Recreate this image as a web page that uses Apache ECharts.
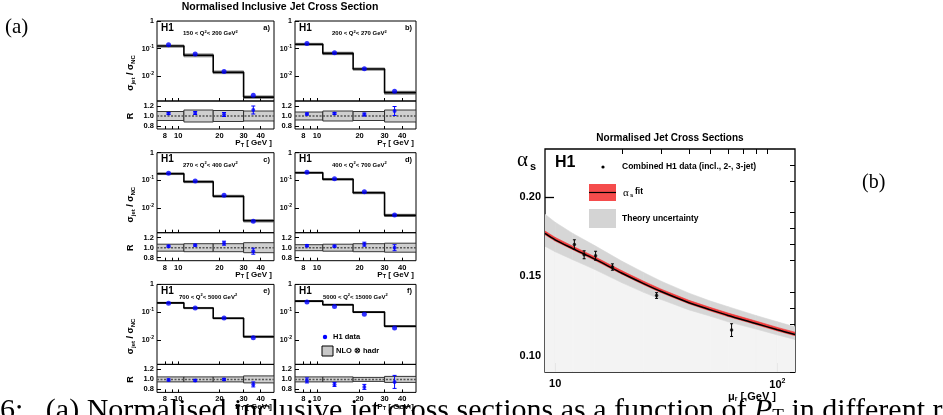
<!DOCTYPE html>
<html><head><meta charset="utf-8">
<script src="https://cdn.jsdelivr.net/npm/echarts@6/dist/echarts.min.js"></script>
<style>html,body{margin:0;padding:0;background:#fff}#c{width:943px;height:415px}</style>
</head><body><div id="c"></div>
<script>
// ---------- data: panel (a) ----------
const ptEdges = [7, 11, 18, 30, 50];
const ptCentres = [8.5, 13.3, 21.6, 35.3];
const ptTickLabels = [8, 10, 20, 30, 40];
const q2Low = ['150', '200', '270', '400', '700', '5000'];
const q2High = ['200', '270', '400', '700', '5000', '15000'];
const panelTags = ['a)', 'b)', 'c)', 'd)', 'e)', 'f)'];
const xsecData = [
  [0.140, 0.065, 0.015, 0.0021],
  [0.153, 0.072, 0.019, 0.0029],
  [0.180, 0.095, 0.029, 0.0034],
  [0.196, 0.115, 0.039, 0.0056],
  [0.211, 0.140, 0.061, 0.0120],
  [0.230, 0.160, 0.083, 0.0270]
];
const nloValues = [
  [0.125, 0.058, 0.0142, 0.0018],
  [0.145, 0.068, 0.0185, 0.0026],
  [0.175, 0.090, 0.027, 0.0035],
  [0.190, 0.110, 0.036, 0.0055],
  [0.215, 0.140, 0.060, 0.0130],
  [0.250, 0.185, 0.100, 0.0310]
];
const ratioValues = [
  [1.05, 1.06, 1.03, 1.12],
  [1.04, 1.05, 1.03, 1.10],
  [1.03, 1.05, 1.09, 0.93],
  [1.04, 1.03, 1.07, 1.00],
  [0.99, 0.98, 1.00, 0.90],
  [0.98, 0.90, 0.85, 0.95]
];
const ratioErrors = [
  [0.02, 0.03, 0.04, 0.08],
  [0.02, 0.02, 0.03, 0.09],
  [0.02, 0.02, 0.04, 0.06],
  [0.02, 0.02, 0.04, 0.06],
  [0.02, 0.02, 0.02, 0.05],
  [0.05, 0.04, 0.05, 0.13]
];
const nloUncert = [
  [0.09, 0.12, 0.11, 0.10],
  [0.08, 0.10, 0.09, 0.12],
  [0.07, 0.08, 0.08, 0.10],
  [0.06, 0.07, 0.08, 0.09],
  [0.05, 0.05, 0.05, 0.07],
  [0.05, 0.05, 0.04, 0.06]
];
// ---------- data: panel (b) ----------
const muGrid = [9, 10, 12, 15, 20, 25, 30, 40, 50, 60, 80, 100, 120];
const alphaFit = [0.177, 0.173, 0.1675, 0.161, 0.152, 0.1455, 0.1405, 0.1335, 0.129, 0.1255, 0.1205, 0.1165, 0.1135];
const fitHi = [0.1785, 0.1745, 0.169, 0.1625, 0.1535, 0.147, 0.142, 0.135, 0.1305, 0.127, 0.122, 0.118, 0.115];
const fitLo = [0.1762, 0.1722, 0.1668, 0.1603, 0.1513, 0.1448, 0.1398, 0.1328, 0.1283, 0.1248, 0.1198, 0.1158, 0.1128];
const theoryHi = [0.189, 0.184, 0.177, 0.1695, 0.1595, 0.1525, 0.147, 0.1395, 0.1345, 0.131, 0.1255, 0.1215, 0.1184];
const theoryLo = [0.169, 0.1655, 0.1605, 0.1545, 0.146, 0.140, 0.1355, 0.129, 0.125, 0.1215, 0.117, 0.1133, 0.1104];
const h1Mu = [12.2, 13.5, 15.2, 18.1, 28.6, 62.2];
const h1Alpha = [0.170, 0.1636, 0.163, 0.1559, 0.138, 0.1163];
const h1Err = [0.003, 0.0025, 0.0028, 0.002, 0.0018, 0.004];
const alphaTicks = [0.10, 0.15, 0.20];
const muTicks = [10, 100];

const F = 'Liberation Sans';
const chart = echarts.init(document.getElementById('c'), null, {renderer: 'canvas'});

function rectRender(fill, stroke, lw) {
  return function (params, api) {
    const p0 = api.coord([api.value(0), api.value(3)]);
    const p1 = api.coord([api.value(1), api.value(2)]);
    return {type: 'rect', shape: {x: p0[0], y: p0[1], width: p1[0] - p0[0], height: p1[1] - p0[1]},
      style: {fill: fill, stroke: stroke, lineWidth: lw}};
  };
}
function errRender(color, cap, lw) {
  return function (params, api) {
    const x = api.value(0);
    const a = api.coord([x, api.value(1)]);
    const b = api.coord([x, api.value(2)]);
    const st = {stroke: color, lineWidth: lw};
    return {type: 'group', children: [
      {type: 'line', shape: {x1: a[0], y1: a[1], x2: b[0], y2: b[1]}, style: st},
      {type: 'line', shape: {x1: a[0] - cap, y1: a[1], x2: a[0] + cap, y2: a[1]}, style: st},
      {type: 'line', shape: {x1: b[0] - cap, y1: b[1], x2: b[0] + cap, y2: b[1]}, style: st}
    ]};
  };
}
// band segment: [x0, x1, lo0, hi0, lo1, hi1]
function bandRender(fill) {
  return function (params, api) {
    const x0 = api.value(0), x1 = api.value(1);
    const pts = [api.coord([x0, api.value(2)]), api.coord([x1, api.value(4)]),
                 api.coord([x1, api.value(5)]), api.coord([x0, api.value(3)])];
    return {type: 'polygon', shape: {points: pts}, style: {fill: fill, stroke: fill, lineWidth: 0.6}};
  };
}
function segments(lo, hi) {
  const out = [];
  for (let k = 0; k < muGrid.length - 1; k++) {
    out.push([muGrid[k], muGrid[k + 1], lo[k], hi[k], lo[k + 1], hi[k + 1]]);
  }
  return out;
}

const grids = [], xAxes = [], yAxes = [], series = [], graphics = [];
const supRich = {
  b: {fontFamily: F, fontWeight: 'bold', fontSize: 7, color: '#000'},
  s: {fontFamily: F, fontWeight: 'bold', fontSize: 5, color: '#000', padding: [0, 0, 5, 0]}
};
const q2LeftX = [183, 332, 183, 332, 179, 323];

for (let i = 0; i < 6; i++) {
  const col = i % 2, row = Math.floor(i / 2);
  const L = col ? 295 : 157, W = col ? 121 : 117, T = 21 + row * 131.7;
  const gu = 2 * i, gr = 2 * i + 1;
  grids.push({left: L, top: T, width: W, height: 80, show: true, borderColor: '#000', borderWidth: 1});
  grids.push({left: L, top: T + 80, width: W, height: 28, show: true, borderColor: '#000', borderWidth: 1});
  const xBase = {type: 'log', logBase: 10, min: 7, max: 50, axisLine: {show: false}, splitLine: {show: false},
    axisTick: {inside: true, length: 3, customValues: [8, 9, 10, 20, 30, 40], lineStyle: {color: '#000', width: 1}}};
  xAxes.push(Object.assign({}, xBase, {gridIndex: gu, axisLabel: {show: false}}));
  xAxes.push(Object.assign({}, xBase, {gridIndex: gr, axisLabel: {customValues: ptTickLabels, margin: 3,
    fontFamily: F, fontWeight: 'bold', fontSize: 7.5, color: '#000', formatter: v => String(Math.round(v))}}));
  yAxes.push({type: 'log', logBase: 10, min: 0.0013, max: 1, gridIndex: gu, axisLine: {show: false}, splitLine: {show: false},
    axisTick: {inside: true, length: 4, customValues: [0.01, 0.1, 1], lineStyle: {color: '#000'}},
    axisLabel: {customValues: [0.01, 0.1, 1], margin: 3, formatter: v => {
      const e = Math.round(Math.log10(v));
      return e === 0 ? '{b|1}' : '{b|10}{s|' + e + '}';
    }, rich: supRich}});
  yAxes.push({type: 'value', min: 0.74, max: 1.3, gridIndex: gr, axisLine: {show: false}, splitLine: {show: false},
    axisTick: {inside: true, length: 4, customValues: [0.8, 1.0, 1.2], lineStyle: {color: '#000'}},
    axisLabel: {customValues: [0.8, 1.0, 1.2], margin: 3, fontFamily: F, fontWeight: 'bold', fontSize: 7.5, color: '#000',
      formatter: v => v.toFixed(1)}});

  const upBand = [], rBand = [], step = [], pts = [], rPts = [], rErr = [];
  for (let k = 0; k < 4; k++) {
    const n = nloValues[i][k], u = nloUncert[i][k];
    upBand.push([ptEdges[k], ptEdges[k + 1], n * (1 - u), n * (1 + u)]);
    rBand.push([ptEdges[k], ptEdges[k + 1], 1 - u, 1 + u]);
    step.push([ptEdges[k], n]);
    pts.push([ptCentres[k], xsecData[i][k]]);
    rPts.push([ptCentres[k], ratioValues[i][k]]);
    rErr.push([ptCentres[k], ratioValues[i][k] - ratioErrors[i][k], ratioValues[i][k] + ratioErrors[i][k]]);
  }
  step.push([ptEdges[4], nloValues[i][3]]);
  series.push({type: 'custom', xAxisIndex: gu, yAxisIndex: gu, renderItem: rectRender('#a9a9a9', '#555', 0.7), data: upBand, clip: true, z: 1});
  series.push({type: 'line', xAxisIndex: gu, yAxisIndex: gu, step: 'end', data: step, symbol: 'none',
    lineStyle: {color: '#000', width: 1.6}, z: 2});
  series.push({type: 'scatter', xAxisIndex: gu, yAxisIndex: gu, data: pts, symbolSize: 5, itemStyle: {color: '#0000ff'}, z: 3});
  series.push({type: 'custom', xAxisIndex: gr, yAxisIndex: gr, renderItem: rectRender('#cfcfcf', '#222', 0.9), data: rBand, clip: true, z: 1});
  series.push({type: 'line', xAxisIndex: gr, yAxisIndex: gr, data: [[7, 1], [50, 1]], symbol: 'none',
    lineStyle: {color: '#555', width: 1.5, type: [2, 1.5]}, z: 2});
  series.push({type: 'custom', xAxisIndex: gr, yAxisIndex: gr, renderItem: errRender('#0000ff', 2, 1), data: rErr, clip: true, z: 3});
  series.push({type: 'scatter', xAxisIndex: gr, yAxisIndex: gr, data: rPts, symbolSize: 4, itemStyle: {color: '#0000ff'}, z: 4});

  graphics.push({type: 'text', x: L + 4, y: T + 7, style: {text: 'H1', fill: '#000', font: 'bold 10px ' + F,
    align: 'left', textAlign: 'left', verticalAlign: 'middle', textVerticalAlign: 'middle'}});
  graphics.push({type: 'text', x: L + W - 4, y: T + 7, style: {text: panelTags[i], fill: '#000', font: 'bold 7.5px ' + F,
    align: 'right', textAlign: 'right', verticalAlign: 'middle', textVerticalAlign: 'middle'}});
  graphics.push({type: 'text', x: q2LeftX[i], y: T + 12.5, style: {
    text: '{t|' + q2Low[i] + ' < Q}{p|2}{t|< ' + q2High[i] + ' GeV}{p|2}',
    align: 'left', textAlign: 'left', verticalAlign: 'middle', textVerticalAlign: 'middle',
    rich: {t: {fontFamily: F, fontWeight: 'bold', fontSize: 6, color: '#000'},
           p: {fontFamily: F, fontWeight: 'bold', fontSize: 4, color: '#000', padding: [0, 0, 4, 0]}}}});
  graphics.push({type: 'text', x: L + W - 2, y: T + 122, style: {
    text: '{t|P}{u|T}{t| [ GeV ]}', align: 'right', textAlign: 'right', verticalAlign: 'middle', textVerticalAlign: 'middle',
    rich: {t: {fontFamily: F, fontWeight: 'bold', fontSize: 8, color: '#000'},
           u: {fontFamily: F, fontWeight: 'bold', fontSize: 5.5, color: '#000', padding: [4, 0, 0, 0]}}}});
  if (col === 0) {
    graphics.push({type: 'text', x: 131, y: T + 52, rotation: Math.PI / 2, style: {
      text: '{t|σ}{u|jet}{t| / σ}{u|NC}', align: 'center', textAlign: 'center', verticalAlign: 'middle', textVerticalAlign: 'middle',
      rich: {t: {fontFamily: F, fontWeight: 'bold', fontSize: 9, color: '#000'},
             u: {fontFamily: F, fontWeight: 'bold', fontSize: 6, color: '#000', padding: [4, 0, 0, 0]}}}});
    graphics.push({type: 'text', x: 131, y: T + 95, rotation: Math.PI / 2, style: {text: 'R', fill: '#000',
      font: 'bold 9px ' + F, align: 'center', textAlign: 'center', verticalAlign: 'middle', textVerticalAlign: 'middle'}});
  }
}

// legend in panel f
graphics.push({type: 'circle', shape: {cx: 325, cy: 337, r: 2.2}, style: {fill: '#0000ff'}});
graphics.push({type: 'text', x: 333, y: 337, style: {text: 'H1 data', fill: '#000', font: 'bold 7.5px ' + F,
  align: 'left', textAlign: 'left', verticalAlign: 'middle', textVerticalAlign: 'middle'}});
graphics.push({type: 'rect', shape: {x: 322, y: 346, width: 11, height: 10}, style: {fill: '#c8c8c8', stroke: '#000', lineWidth: 1}});
graphics.push({type: 'text', x: 336, y: 351, style: {text: 'NLO ⊗ hadr', fill: '#000', font: 'bold 7.5px ' + F,
  align: 'left', textAlign: 'left', verticalAlign: 'middle', textVerticalAlign: 'middle'}});

// ---------- right panel ----------
const RG = 12;
grids.push({left: 545, top: 149, width: 250, height: 223, show: true, borderColor: '#000', borderWidth: 1.3});
xAxes.push({type: 'log', logBase: 10, min: 9, max: 120, gridIndex: RG, axisLine: {show: false}, splitLine: {show: false},
  axisTick: {inside: true, length: 9, customValues: muTicks, lineStyle: {color: '#000', width: 1.3}},
  axisLabel: {customValues: muTicks, margin: 6, formatter: v => v < 50 ? '{b|10}' : '{b|10}{s|2}',
    rich: {b: {fontFamily: F, fontWeight: 'bold', fontSize: 11, color: '#000'},
           s: {fontFamily: F, fontWeight: 'bold', fontSize: 7, color: '#000', padding: [0, 0, 7, 0]}}}});
xAxes.push({type: 'log', logBase: 10, min: 9, max: 120, gridIndex: RG, axisLine: {show: false}, splitLine: {show: false},
  axisTick: {inside: true, length: 5, customValues: [20, 30, 40, 50, 60, 70, 80, 90], lineStyle: {color: '#000', width: 1}},
  axisLabel: {show: false}});
yAxes.push({type: 'value', min: 0.09, max: 0.23, gridIndex: RG, axisLine: {show: false}, splitLine: {show: false},
  axisTick: {inside: true, length: 9, customValues: alphaTicks, lineStyle: {color: '#000', width: 1.3}},
  axisLabel: {customValues: alphaTicks, margin: 4, fontFamily: F, fontWeight: 'bold', fontSize: 11, color: '#000',
    formatter: v => v.toFixed(2)}});
yAxes.push({type: 'value', min: 0.09, max: 0.23, gridIndex: RG, axisLine: {show: false}, splitLine: {show: false},
  axisTick: {inside: true, length: 5, customValues: [0.09, 0.11, 0.12, 0.13, 0.14, 0.16, 0.17, 0.18, 0.19, 0.21, 0.22],
    lineStyle: {color: '#000', width: 1}}, axisLabel: {show: false}});

const XI = 12, YI = 12;
const floorLine = muGrid.map(() => 0.09);
series.push({type: 'custom', xAxisIndex: XI, yAxisIndex: YI, renderItem: bandRender('#f3f3f3'),
  data: segments(floorLine, theoryLo), clip: true, z: 1});
series.push({type: 'custom', xAxisIndex: XI, yAxisIndex: YI, renderItem: bandRender('#d6d6d6'),
  data: segments(theoryLo, theoryHi), clip: true, z: 2});
series.push({type: 'custom', xAxisIndex: XI, yAxisIndex: YI, renderItem: bandRender('#f23c3c'),
  data: segments(fitLo, fitHi), clip: true, z: 3});
series.push({type: 'line', xAxisIndex: XI, yAxisIndex: YI, data: muGrid.map((m, k) => [m, alphaFit[k]]),
  symbol: 'none', smooth: 0.3, lineStyle: {width: 1.5, color: '#000'}, z: 4});
series.push({type: 'custom', xAxisIndex: XI, yAxisIndex: YI, renderItem: errRender('#000', 1.5, 1),
  data: h1Mu.map((m, k) => [m, h1Alpha[k] - h1Err[k], h1Alpha[k] + h1Err[k]]), z: 5});
series.push({type: 'scatter', xAxisIndex: XI, yAxisIndex: YI, data: h1Mu.map((m, k) => [m, h1Alpha[k]]),
  symbolSize: 3.5, itemStyle: {color: '#000'}, z: 6});

const tl = (x, y, text, font, align) => ({type: 'text', x: x, y: y, style: {text: text, fill: '#000', font: font,
  align: align || 'left', textAlign: align || 'left', verticalAlign: 'middle', textVerticalAlign: 'middle'}});
graphics.push(tl(670, 138, 'Normalised Jet Cross Sections', 'bold 10px ' + F, 'center'));
graphics.push(tl(280, 7, 'Normalised Inclusive Jet Cross Section', 'bold 10.5px ' + F, 'center'));
graphics.push(tl(555, 163, 'H1', 'bold 16px ' + F));
graphics.push(tl(517, 160, 'α', '21px Liberation Serif'));
graphics.push(tl(530, 167, 's', 'bold 11px ' + F));
graphics.push({type: 'circle', shape: {cx: 603, cy: 167, r: 1.6}, style: {fill: '#000'}});
graphics.push(tl(622, 167, 'Combined H1 data (incl., 2-, 3-jet)', 'bold 8.5px ' + F));
graphics.push({type: 'rect', shape: {x: 589, y: 184, width: 27, height: 17}, style: {fill: '#f54c4c'}});
graphics.push({type: 'line', shape: {x1: 589, y1: 192.5, x2: 616, y2: 192.5}, style: {stroke: '#000', lineWidth: 1.2}});
graphics.push(tl(623, 193, 'α', '11px Liberation Serif'));
graphics.push(tl(630, 195, 's', 'bold 6px ' + F));
graphics.push(tl(635, 192, 'fit', 'bold 8.5px ' + F));
graphics.push({type: 'rect', shape: {x: 589, y: 209, width: 27, height: 19}, style: {fill: '#d4d4d4'}});
graphics.push(tl(622, 219, 'Theory uncertainty', 'bold 8.5px ' + F));
graphics.push({type: 'text', x: 776, y: 397, style: {text: '{t|μ}{u|r}{t| [ GeV ]}', align: 'right', textAlign: 'right',
  verticalAlign: 'middle', textVerticalAlign: 'middle',
  rich: {t: {fontFamily: F, fontWeight: 'bold', fontSize: 11, color: '#000'},
         u: {fontFamily: F, fontWeight: 'bold', fontSize: 7, color: '#000', padding: [5, 0, 0, 0]}}}});
graphics.push(tl(5, 27, '(a)', '21px Liberation Serif'));
graphics.push(tl(862, 183, '(b)', '20px Liberation Serif'));
graphics.push({type: 'text', x: 0, y: 396, style: {
  text: '{n|6:   (a) Normalised inclusive jet cross sections as a function of }{i|P}{u|T}{n| in different regions}',
  align: 'left', textAlign: 'left', verticalAlign: 'top', textVerticalAlign: 'top',
  rich: {n: {fontFamily: 'Liberation Serif', fontSize: 30, color: '#000'},
         i: {fontFamily: 'Liberation Serif', fontStyle: 'italic', fontSize: 30, color: '#000'},
         u: {fontFamily: 'Liberation Serif', fontSize: 19, color: '#000', padding: [12, 0, 0, 0]}}}});

chart.setOption({
  animation: false,
  backgroundColor: '#fff',
  grid: grids, xAxis: xAxes, yAxis: yAxes, series: series,
  graphic: {elements: graphics}
});
</script></body></html>
